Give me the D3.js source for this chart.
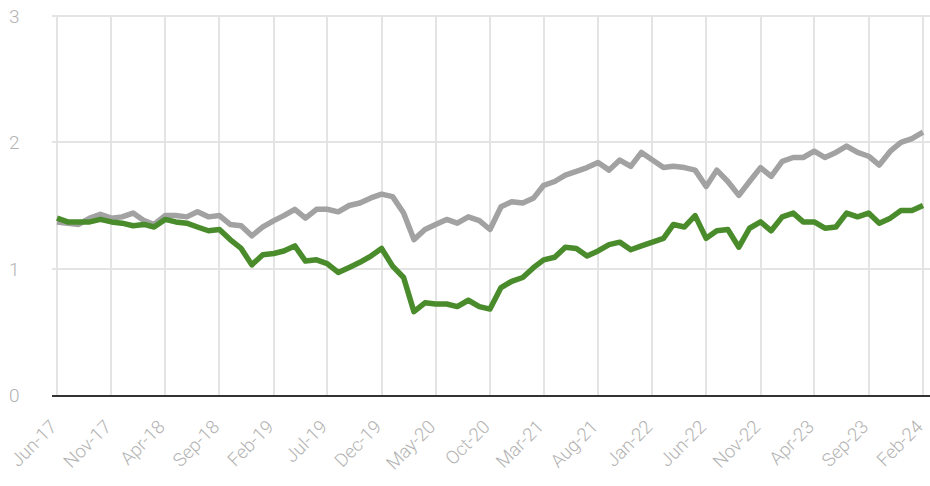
<!DOCTYPE html>
<meta charset="utf-8">
<style>
body { margin: 0; background: #fff; font-family: Roboto, "Open Sans", sans-serif; }
.grid line { stroke: #e4e4e4; stroke-width: 2; shape-rendering: crispEdges; }
.ylab text { fill: #b3b3b3; font-size: 19px; font-weight: 300; }
.xlab text { fill: #b3b3b3; font-size: 18.5px; font-weight: 300; }
</style>
<script src="https://d3js.org/d3.v7.min.js"></script>
<body>
<div id="chart"></div>
<script>
// monthly series, Jun-17 .. Feb-24
var startMonth = new Date(2017, 5, 1);
var greenValues = [1.40, 1.37, 1.37, 1.37, 1.39, 1.37, 1.36, 1.34, 1.35, 1.33,
  1.39, 1.37, 1.36, 1.33, 1.30, 1.31, 1.23, 1.16, 1.03, 1.11,
  1.12, 1.14, 1.18, 1.06, 1.07, 1.04, 0.97, 1.01, 1.05, 1.10,
  1.16, 1.02, 0.93, 0.66, 0.73, 0.72, 0.72, 0.70, 0.75, 0.70,
  0.68, 0.85, 0.90, 0.93, 1.01, 1.07, 1.09, 1.17, 1.16, 1.10,
  1.14, 1.19, 1.21, 1.15, 1.18, 1.21, 1.24, 1.35, 1.33, 1.42,
  1.24, 1.30, 1.31, 1.17, 1.32, 1.37, 1.30, 1.41, 1.44, 1.37,
  1.37, 1.32, 1.33, 1.44, 1.41, 1.44, 1.36, 1.40, 1.46, 1.46,
  1.50];
var greyValues = [1.37, 1.36, 1.35, 1.40, 1.43, 1.40, 1.41, 1.44, 1.38, 1.35,
  1.42, 1.42, 1.41, 1.45, 1.41, 1.42, 1.35, 1.34, 1.26, 1.33,
  1.38, 1.42, 1.47, 1.40, 1.47, 1.47, 1.45, 1.50, 1.52, 1.56,
  1.59, 1.57, 1.44, 1.23, 1.31, 1.35, 1.39, 1.36, 1.41, 1.38,
  1.31, 1.49, 1.53, 1.52, 1.56, 1.66, 1.69, 1.74, 1.77, 1.80,
  1.84, 1.78, 1.86, 1.81, 1.92, 1.86, 1.80, 1.81, 1.80, 1.78,
  1.65, 1.78, 1.69, 1.58, 1.69, 1.80, 1.73, 1.85, 1.88, 1.88,
  1.93, 1.88, 1.92, 1.97, 1.92, 1.89, 1.82, 1.93, 2.00, 2.03,
  2.08];
var xTickLabels = ["Jun-17", "Nov-17", "Apr-18", "Sep-18", "Feb-19", "Jul-19", "Dec-19",
  "May-20", "Oct-20", "Mar-21", "Aug-21", "Jan-22", "Jun-22", "Nov-22", "Apr-23",
  "Sep-23", "Feb-24"];
var yTicks = [0, 1, 2, 3];

var width = 930, height = 486;
var margin = {left: 57, right: 923, top: 16, bottom: 395};

var svg = d3.select("#chart").append("svg")
    .attr("width", width)
    .attr("height", height);

var months = greenValues.map(function(d, i) { return d3.timeMonth.offset(startMonth, i); });

var x = d3.scaleTime()
    .domain([months[0], months[months.length - 1]])
    .range([margin.left, margin.right]);
var y = d3.scaleLinear()
    .domain([0, 3])
    .range([margin.bottom, margin.top]);

var tickDates = xTickLabels.map(function(d, i) { return d3.timeMonth.offset(startMonth, i * 5); });

// gridlines
var grid = svg.append("g").attr("class", "grid");
grid.selectAll(".h").data(yTicks.slice(1)).enter().append("line")
    .attr("x1", 52).attr("x2", width)
    .attr("y1", function(d) { return Math.round(y(d)); })
    .attr("y2", function(d) { return Math.round(y(d)); });
grid.selectAll(".v").data(tickDates).enter().append("line")
    .attr("x1", function(d) { return Math.round(x(d)); })
    .attr("x2", function(d) { return Math.round(x(d)); })
    .attr("y1", margin.top + 1).attr("y2", margin.bottom);

// y labels
svg.append("g").attr("class", "ylab")
  .selectAll("text").data(yTicks).enter().append("text")
    .attr("x", 9)
    .attr("y", function(d) { return y(d) + 7; })
    .text(function(d) { return d; });

// x axis line
svg.append("line")
    .attr("x1", 52).attr("x2", width)
    .attr("y1", margin.bottom + 1).attr("y2", margin.bottom + 1)
    .attr("stroke", "#333")
    .attr("stroke-width", 2);

// x labels
svg.append("g").attr("class", "xlab")
  .selectAll("text").data(tickDates).enter().append("text")
    .attr("text-anchor", "end")
    .attr("transform", function(d) { return "translate(" + (x(d) + 1) + "," + 428 + ") rotate(-45)"; })
    .text(function(d, i) { return xTickLabels[i]; });

var line = d3.line()
    .x(function(d, i) { return x(months[i]); })
    .y(function(d) { return y(d); });

svg.append("path")
    .datum(greyValues)
    .attr("fill", "none")
    .attr("stroke", "#a2a2a2")
    .attr("stroke-width", 5.5)
    .attr("stroke-linejoin", "round")
    .attr("d", line);

svg.append("path")
    .datum(greenValues)
    .attr("fill", "none")
    .attr("stroke", "#4a8c2c")
    .attr("stroke-width", 5.5)
    .attr("stroke-linejoin", "round")
    .attr("d", line);
</script>
</body>
